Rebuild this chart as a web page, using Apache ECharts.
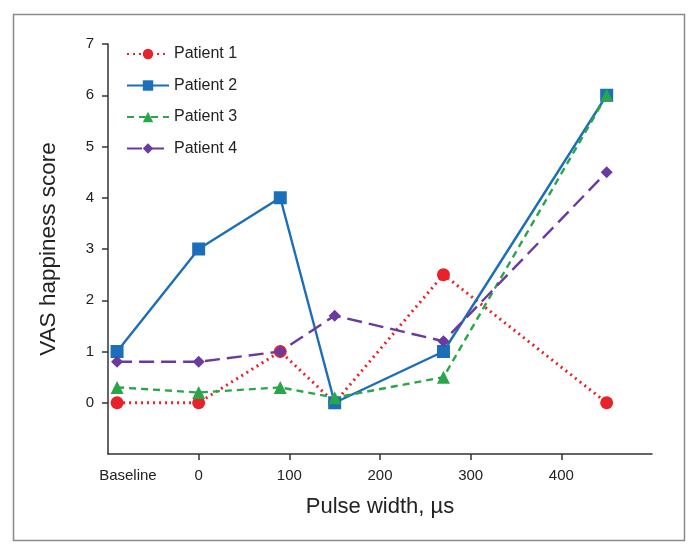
<!DOCTYPE html>
<html>
<head>
<meta charset="utf-8">
<script src="https://cdn.jsdelivr.net/npm/echarts@6/dist/echarts.min.js"></script>
<style>html,body{margin:0;padding:0;background:#fff;}#c{width:690px;height:550px;}</style>
</head>
<body>
<div id="c"></div>
<script>
// Data
const pulseWidths = [-90, 0, 90, 150, 270, 450]; // -90 plotted as "Baseline"
const patient1 = [0, 0, 1, 0, 2.5, 0];
const patient2 = [1, 3, 4, 0, 1, 6];
const patient3 = [0.3, 0.2, 0.3, 0.1, 0.5, 6];
const patient4 = [0.8, 0.8, 1.0, 1.7, 1.2, 4.5];
const seriesNames = ['Patient 1', 'Patient 2', 'Patient 3', 'Patient 4'];
const xTickValues = [0, 100, 200, 300, 400];
const baselineLabelText = 'Baseline';
const baselineLabelAt = -78;
const yTickValues = [0, 1, 2, 3, 4, 5, 6, 7];

const FONT = 'Liberation Sans, Arial, sans-serif';
const pts = arr => pulseWidths.map((x, i) => [x, arr[i]]);

const chart = echarts.init(document.getElementById('c'), null, {renderer: 'canvas'});
chart.setOption({
  animation: false,
  backgroundColor: '#fff',
  textStyle: {fontFamily: FONT},
  graphic: [{
    type: 'rect', left: 11, top: 12, z: -1,
    shape: {width: 671, height: 526},
    style: {fill: 'none', stroke: '#8a8a8a', lineWidth: 1.5}
  }],
  grid: {left: 108, right: 38, top: 44, bottom: 96},
  legend: {
    orient: 'vertical', left: 121, top: 41, itemGap: 15.5,
    itemWidth: 42, itemHeight: 13,
    textStyle: {fontFamily: FONT, fontSize: 16, color: '#222'},
    data: seriesNames
  },
  xAxis: {
    type: 'value', min: -100, max: 500,
    splitLine: {show: false},
    axisLine: {onZero: false, lineStyle: {color: '#333', width: 1.5}},
    axisTick: {show: true, length: 6, customValues: xTickValues, lineStyle: {color: '#333', width: 1.5}},
    axisLabel: {
      customValues: [baselineLabelAt].concat(xTickValues),
      formatter: v => (v === baselineLabelAt ? baselineLabelText : String(v)),
      fontFamily: FONT, fontSize: 15, color: '#222', margin: 14
    },
    name: 'Pulse width, µs', nameLocation: 'middle', nameGap: 42,
    nameTextStyle: {fontFamily: FONT, fontSize: 22, color: '#222'}
  },
  yAxis: {
    type: 'value', min: -1, max: 7, interval: 1,
    splitLine: {show: false},
    axisLine: {show: true, onZero: false, lineStyle: {color: '#333', width: 1.5}},
    axisTick: {show: true, length: 6, customValues: yTickValues, lineStyle: {color: '#333', width: 1.5}},
    axisLabel: {customValues: yTickValues, fontFamily: FONT, fontSize: 15, color: '#222', margin: 14},
    name: 'VAS happiness score', nameLocation: 'middle', nameGap: 48,
    nameTextStyle: {fontFamily: FONT, fontSize: 22.5, color: '#222'}
  },
  series: [
    {name: seriesNames[0], type: 'line', data: pts(patient1), z: 2,
     symbol: 'circle', symbolSize: 13,
     itemStyle: {color: '#e8222b'}, lineStyle: {color: '#e8222b', width: 3, type: [2, 4]}},
    {name: seriesNames[1], type: 'line', data: pts(patient2), z: 3,
     symbol: 'rect', symbolSize: 13,
     itemStyle: {color: '#1b6eb8'}, lineStyle: {color: '#1b6eb8', width: 2.4}},
    {name: seriesNames[2], type: 'line', data: pts(patient3), z: 4,
     symbol: 'triangle', symbolSize: 13,
     itemStyle: {color: '#2aa64a'}, lineStyle: {color: '#2aa64a', width: 2.4, type: [7, 5]}},
    {name: seriesNames[3], type: 'line', data: pts(patient4), z: 5,
     symbol: 'diamond', symbolSize: 12,
     itemStyle: {color: '#6b3a9e'}, lineStyle: {color: '#6b3a9e', width: 2.4, type: [15, 7]}}
  ]
});
</script>
</body>
</html>
